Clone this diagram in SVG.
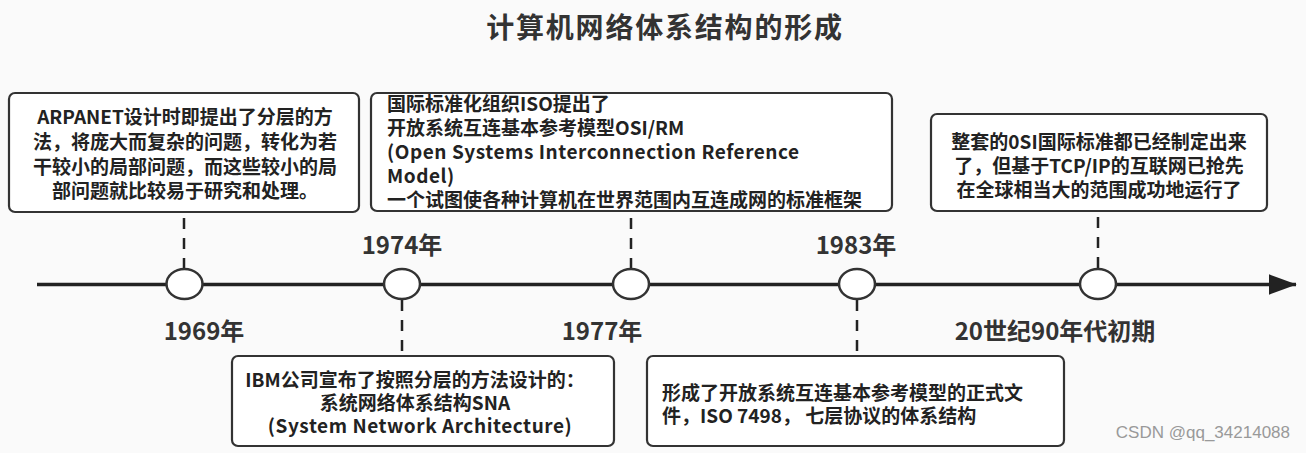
<svg xmlns="http://www.w3.org/2000/svg" width="1306" height="453" viewBox="0 0 1306 453">
<defs>
<style>
.bg{fill:#fafafa}
.box{fill:#ffffff;stroke:#333333;stroke-width:2.2}
.t{font-family:"Noto Sans CJK SC","Liberation Sans",sans-serif;font-weight:bold;fill:#222222;font-size:19px}
.c{text-anchor:middle}
.lat{letter-spacing:0.55px}
.yr{font-family:"Noto Sans CJK SC","Liberation Sans",sans-serif;font-weight:bold;fill:#333333;font-size:24px;text-anchor:middle}
.dash{stroke:#222222;stroke-width:2.5;stroke-dasharray:11 9;fill:none}
.axis{stroke:#222222;stroke-width:3.5;fill:none}
.dot{fill:#ffffff;stroke:#333333;stroke-width:2.5}
</style>
<marker id="arr" markerWidth="8" markerHeight="6" refX="7.2" refY="2.7" orient="auto" markerUnits="strokeWidth" viewBox="0 0 7.4 5.4">
<path d="M0,0 L7.4,2.7 L0,5.4 Z" fill="#222222"/>
</marker>
</defs>
<rect class="bg" x="0" y="0" width="1306" height="453"/>
<text x="665" y="38" class="c" style="font-family:'Noto Sans CJK SC','Liberation Sans',sans-serif;font-weight:bold;font-size:28px;fill:#333333;letter-spacing:1.8px">计算机网络体系结构的形成</text>

<g id="connectors">
<line class="axis" x1="37" y1="284.5" x2="1296" y2="284.5" marker-end="url(#arr)"/>
<line class="dash" x1="184" y1="218" x2="184" y2="269"/>
<line class="dash" x1="402" y1="300" x2="402" y2="356"/>
<line class="dash" x1="631" y1="218" x2="631" y2="269"/>
<line class="dash" x1="857" y1="300" x2="857" y2="356"/>
<line class="dash" x1="1098" y1="217" x2="1098" y2="269"/>
</g>

<g id="dot1969"><ellipse class="dot" cx="184.5" cy="284" rx="18" ry="15"/></g>
<g id="dot1974"><ellipse class="dot" cx="402" cy="284" rx="18" ry="15"/></g>
<g id="dot1977"><ellipse class="dot" cx="631" cy="284" rx="18" ry="15"/></g>
<g id="dot1983"><ellipse class="dot" cx="857" cy="284" rx="18" ry="15"/></g>
<g id="dot1990"><ellipse class="dot" cx="1098" cy="284" rx="18" ry="15"/></g>

<g id="year1969"><text class="yr" x="204" y="340">1969年</text></g>
<g id="year1974"><text class="yr" x="402" y="254">1974年</text></g>
<g id="year1977"><text class="yr" x="602" y="340">1977年</text></g>
<g id="year1983"><text class="yr" x="856" y="254">1983年</text></g>
<g id="year1990"><text class="yr" x="1055" y="340">20世纪90年代初期</text></g>

<g id="box-arpanet">
<rect class="box" x="9" y="93" width="350" height="119" rx="6"/>
<text class="t c" x="185" y="124">ARPANET设计时即提出了分层的方</text>
<text class="t c" x="185" y="149">法，将庞大而复杂的问题，转化为若</text>
<text class="t c" x="185" y="174">干较小的局部问题，而这些较小的局</text>
<text class="t c" x="185" y="198">部问题就比较易于研究和处理。</text>
</g>

<g id="box-osi">
<rect class="box" x="371" y="93" width="521" height="118" rx="6"/>
<text class="t" x="387" y="111">国际标准化组织ISO提出了</text>
<text class="t" x="387" y="135">开放系统互连基本参考模型OSI/RM</text>
<text class="t lat" x="387" y="159">(Open Systems Interconnection Reference</text>
<text class="t lat" x="387" y="183">Model)</text>
<text class="t" x="387" y="207">一个试图使各种计算机在世界范围内互连成网的标准框架</text>
</g>

<g id="box-90s">
<rect class="box" x="931" y="114" width="336" height="97" rx="6"/>
<text class="t c" x="1099" y="149">整套的0SI国际标准都已经制定出来</text>
<text class="t c" x="1099" y="173">了，但基于TCP/IP的互联网已抢先</text>
<text class="t c" x="1099" y="197">在全球相当大的范围成功地运行了</text>
</g>

<g id="box-ibm">
<rect class="box" x="232" y="356" width="382" height="90" rx="6"/>
<text class="t c" x="415" y="387">IBM公司宣布了按照分层的方法设计的：</text>
<text class="t c" x="415" y="410">系统网络体系结构SNA</text>
<text class="t c lat" x="420" y="433">(System Network Architecture)</text>
</g>

<g id="box-iso7498">
<rect class="box" x="647" y="356" width="417" height="90" rx="6"/>
<text class="t" x="662" y="400">形成了开放系统互连基本参考模型的正式文</text>
<text class="t" x="662" y="423">件，ISO 7498， 七层协议的体系结构</text>
</g>

<text x="1290" y="438" text-anchor="end" style="font-family:'Liberation Sans',sans-serif;font-size:17px;fill:#999999">CSDN @qq_34214088</text>
</svg>
